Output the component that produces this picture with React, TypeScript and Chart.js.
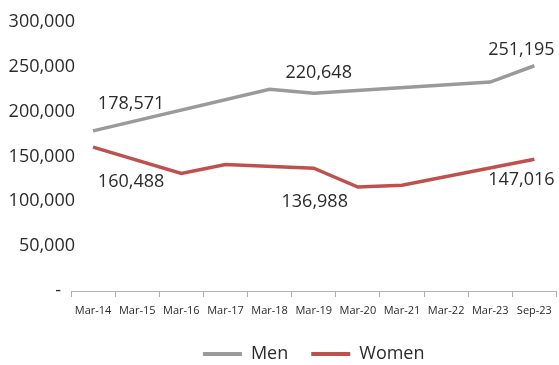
import React, { useEffect, useRef } from "react";
import { Chart, registerables } from "chart.js";

Chart.register(...registerables);

const categories = ["Mar-14", "Mar-15", "Mar-16", "Mar-17", "Mar-18", "Mar-19", "Mar-20", "Mar-21", "Mar-22", "Mar-23", "Sep-23"];
const menValues: (number | null)[] = [178571, null, null, null, 225000, 220648, null, null, null, 233000, 251195];
const womenValues: (number | null)[] = [160488, null, 131000, 141000, null, 136988, 116000, 118000, null, null, 147016];
const yTicks = [0, 50000, 100000, 150000, 200000, 250000, 300000];

const FONT = "'Open Sans', 'Noto Sans', sans-serif";
const TEXT = "#2b2b2b";

// which points get a value label, with label offsets (styling only)
const labelSpots = [
  { ds: 0, i: 0, dx: 38, dy: -27 },
  { ds: 1, i: 0, dx: 38, dy: 35 },
  { ds: 0, i: 5, dx: 5, dy: -20 },
  { ds: 1, i: 5, dx: 1, dy: 34 },
  { ds: 0, i: 10, dx: -13, dy: -16 },
  { ds: 1, i: 10, dx: -13, dy: 21 },
];

const fmt = (v: number) => v.toLocaleString("en-US");

const valueLabels = {
  id: "valueLabels",
  afterDatasetsDraw(chart: any) {
    const ctx = chart.ctx;
    ctx.save();
    ctx.font = `18px ${FONT}`;
    ctx.fillStyle = TEXT;
    ctx.textAlign = "center";
    ctx.textBaseline = "middle";
    for (const s of labelSpots) {
      const v = chart.data.datasets[s.ds].data[s.i];
      if (v == null) continue;
      const x = chart.scales.x.getPixelForValue(s.i);
      const y = chart.scales.y.getPixelForValue(v);
      ctx.fillText(fmt(v), x + s.dx, y + s.dy);
    }
    ctx.restore();
  },
};

export default function App() {
  const ref = useRef<HTMLCanvasElement>(null);
  useEffect(() => {
    document.body.style.margin = "0";
    const chart = new Chart(ref.current!, {
      type: "line",
      data: {
        labels: categories,
        datasets: [
          {
            label: "Men",
            data: menValues,
            borderColor: "#9a9a9c",
            backgroundColor: "#9a9a9c",
            borderWidth: 3.5,
            pointRadius: 0,
            spanGaps: true,
            tension: 0,
          },
          {
            label: "Women",
            data: womenValues,
            borderColor: "#c0504d",
            backgroundColor: "#c0504d",
            borderWidth: 3.5,
            pointRadius: 0,
            spanGaps: true,
            tension: 0,
          },
        ],
      },
      options: {
        responsive: false,
        animation: false,
        layout: { padding: { top: 22, right: 2, left: 0, bottom: 0 } },
        plugins: {
          tooltip: { enabled: false },
          legend: {
            position: "bottom",
            fullSize: false,
            maxHeight: 43,
            labels: {
              boxWidth: 39,
              boxHeight: 4,
              padding: 23,
              color: TEXT,
              font: { family: FONT, size: 18 },
              generateLabels: (c: any) =>
                (Chart.defaults.plugins.legend.labels.generateLabels as any)(c).map((l: any) => ({ ...l, lineWidth: 0 })),
            },
          },
        },
        scales: {
          x: {
            offset: true,
            grid: { display: true, offset: true, drawOnChartArea: false, drawTicks: true, tickLength: 6, color: "#b0b0b0" },
            border: { display: true, color: "#b0b0b0", width: 1 },
            ticks: { color: TEXT, font: { family: FONT, size: 11 }, padding: 7, maxRotation: 0, autoSkip: false },
            afterFit: (s: any) => { s.height = 31; },
          },
          y: {
            min: 0,
            max: 300000,
            grid: { display: false, drawTicks: false },
            border: { display: false },
            afterBuildTicks: (s: any) => { s.ticks = yTicks.map((v) => ({ value: v })); },
            ticks: {
              color: TEXT,
              font: { family: FONT, size: 18 },
              padding: -4,
              callback: (v: any) => (v === 0 ? "-   " : fmt(Number(v))),
            },
            afterFit: (s: any) => {
              s.width = 71;
              s._computeLabelArea = () => undefined;
            },
          },
        },
      },
      plugins: [valueLabels],
    });
    return () => chart.destroy();
  }, []);
  return <canvas ref={ref} width={559} height={365} style={{ display: "block" }} />;
}
